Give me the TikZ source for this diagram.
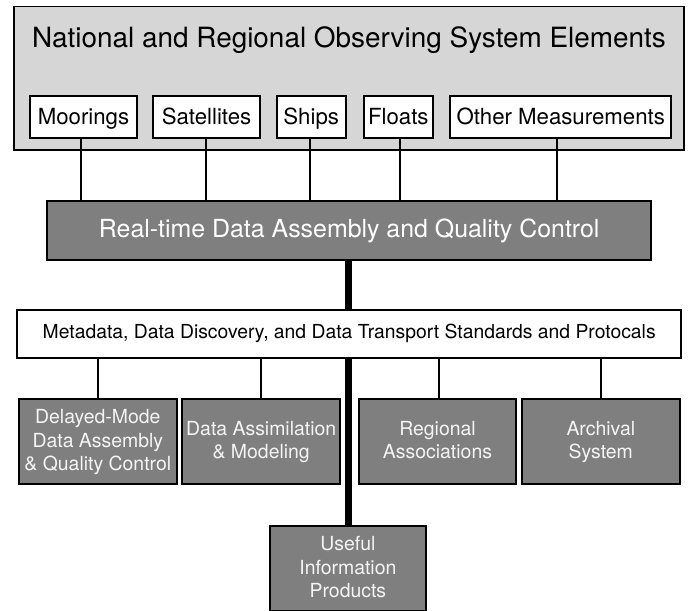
\documentclass[tikz,border=0pt]{standalone}
\usepackage{fontspec}
\setmainfont{TeX Gyre Heros}
\definecolor{topfill}{HTML}{D6D6D6}
\definecolor{darkfill}{HTML}{7F7F7F}
\definecolor{lighttext}{HTML}{F4F4F4}
\begin{document}
\begin{tikzpicture}[x=1bp,y=-1bp,
  every node/.style={inner sep=0pt, align=center},
  basebox/.style={draw=black, line width=2bp},
  topbox/.style={basebox, fill=topfill, line width=1.8bp},
  whitebox/.style={basebox, fill=white},
  elembox/.style={whitebox, minimum height=42bp, text height=17bp, text depth=1.6bp,
    font=\fontsize{22.3}{26}\selectfont},
  darkbox/.style={basebox, fill=darkfill, text=lighttext},
  lowbox/.style={darkbox, minimum height=85bp, text depth=2bp, font=\fontsize{19.5}{23.5}\selectfont},
  link/.style={line width=2bp},
  trunk/.style={line width=7bp}]
\useasboundingbox (0,0) rectangle (690,611);
% top container
\node[topbox, minimum width=670bp, minimum height=143.5bp] (top) at (349.25,78.25) {};
\node[font=\fontsize{28}{32}\selectfont] (title) at (349,40) {National and Regional Observing System Elements};
% observing elements
\node[elembox, minimum width=107bp] (moor) at (83.5,117.3) {Moorings};
\node[elembox, minimum width=107bp] (sat) at (206.5,117.3) {Satellites};
\node[elembox, minimum width=69bp] (ships) at (311.2,117.3) {Ships};
\node[elembox, minimum width=69bp] (floats) at (398.3,117.3) {Floats};
\node[elembox, minimum width=221bp] (other) at (560.7,117.3) {Other Measurements};
% real-time
\node[darkbox, text=white, minimum width=604bp, minimum height=59bp,
  font=\fontsize{25}{29}\selectfont] (rt) at (349.2,230.7) {Real-time Data Assembly and Quality Control};
% metadata
\node[whitebox, minimum width=664bp, minimum height=48bp,
  font=\fontsize{19.4}{23}\selectfont] (meta) at (349.2,333.7) {Metadata, Data Discovery, and Data Transport Standards and Protocals};
% lower boxes
\node[lowbox, minimum width=158bp] (delay) at (97.8,441) {Delayed-Mode\\Data Assembly\\\& Quality Control};
\node[lowbox, minimum width=158bp] (assim) at (261.2,441) {Data Assimilation\\\& Modeling};
\node[lowbox, minimum width=157bp] (reg) at (437.5,441) {Regional\\Associations};
\node[lowbox, minimum width=158bp] (arch) at (600.8,441) {Archival\\System};
\node[lowbox, minimum width=156bp] (useful) at (347.9,568) {Useful\\Information\\Products};
% connectors top
\coordinate (c1) at ([xshift=-2.5bp]moor.south);
\coordinate (c2) at ([xshift=-0.5bp]sat.south);
\coordinate (c3) at ([xshift=-0.9bp]ships.south);
\coordinate (c4) at ([xshift=1.7bp]floats.south);
\coordinate (c5) at ([xshift=-3.4bp]other.south);
\foreach \c in {c1,c2,c3,c4,c5} \draw[link] (\c) -- (\c |- rt.north);
% connectors bottom
\draw[link] (delay.north |- meta.south) -- (delay.north);
\draw[link] (assim.north |- meta.south) -- (assim.north);
\coordinate (c6) at ([xshift=1.5bp]reg.north);
\draw[link] (c6 |- meta.south) -- (c6);
\draw[link] (arch.north |- meta.south) -- (arch.north);
% trunk
\coordinate (t1) at (348.7,0);
\draw[trunk] (t1 |- rt.south) -- (t1 |- meta.north);
\draw[trunk] (t1 |- meta.south) -- (t1 |- useful.north);
\end{tikzpicture}
\end{document}
